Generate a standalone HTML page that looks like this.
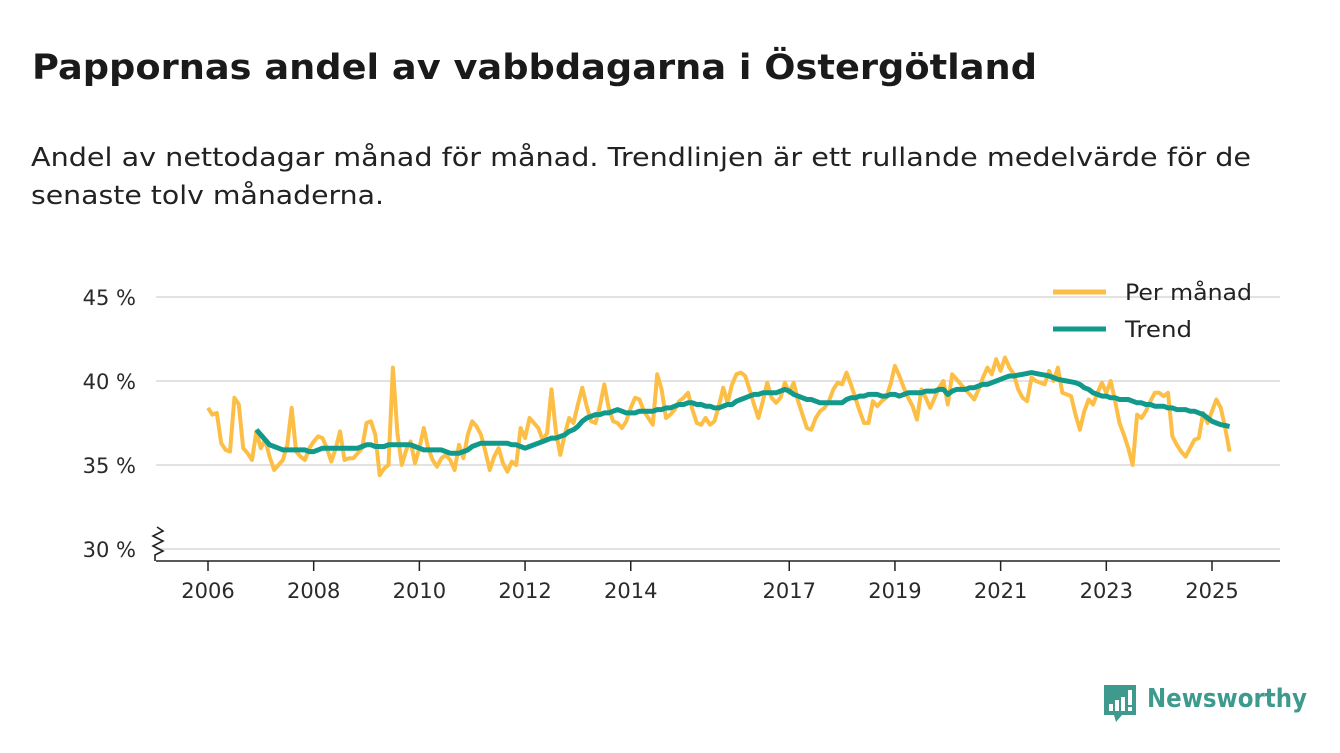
<!DOCTYPE html>
<html><head><meta charset="utf-8"><style>
html,body{margin:0;padding:0;background:#fff;}
svg{display:block;font-family:"DejaVu Sans","Liberation Sans",sans-serif;}
</style></head><body>
<svg id="chart" width="1340" height="753" viewBox="0 0 1340 753">
<text x="32" y="79" font-size="35" font-weight="bold" fill="#1a1a1a" textLength="1005" lengthAdjust="spacingAndGlyphs">Pappornas andel av vabbdagarna i Östergötland</text>
<text x="31" y="166" font-size="26" fill="#222" textLength="1220" lengthAdjust="spacingAndGlyphs">Andel av nettodagar månad för månad. Trendlinjen är ett rullande medelvärde för de</text>
<text x="31" y="204" font-size="26" fill="#222" textLength="353" lengthAdjust="spacingAndGlyphs">senaste tolv månaderna.</text>
<g id="grid"></g>
<g id="yticks"></g>
<g id="xticks"></g>
<path d="M157,527 l6,4 l-10,5 l10,5 l-10,5 l10,5 l-8,4 v6" fill="none" stroke="#222" stroke-width="1.6"/>
<line x1="156" y1="561" x2="1280" y2="561" stroke="#222" stroke-width="1.6"/>
<g id="series"></g>
<g>
<g>
<line x1="1053" y1="292" x2="1106" y2="292" stroke="#FDBE45" stroke-width="5"/>
<text x="1125" y="300" font-size="22" fill="#222" textLength="127" lengthAdjust="spacingAndGlyphs">Per månad</text></g>
<g>
<line x1="1053" y1="329" x2="1106" y2="329" stroke="#11998C" stroke-width="5"/>
<text x="1125" y="337" font-size="22" fill="#222" textLength="67" lengthAdjust="spacingAndGlyphs">Trend</text></g>
</g>
<g>
<path d="M1104,685 h32 v30 h-14 l-6,7 l-2,-7 h-10 z" fill="#3d9a8c"/>
<rect x="1109" y="704" width="4" height="7" fill="#fff"/>
<rect x="1115" y="700" width="4" height="11" fill="#fff"/>
<rect x="1121" y="697" width="4" height="14" fill="#fff"/>
<rect x="1128" y="690" width="4" height="15" fill="#fff"/>
<rect x="1128" y="707" width="4" height="4" fill="#fff"/>
<text x="1147" y="707" font-size="26" font-weight="bold" fill="#3d9a8c" textLength="160" lengthAdjust="spacingAndGlyphs">Newsworthy</text>
</g>
</svg>
<script>
const monthly = [
38.4,38.0,38.1,36.3,35.9,35.8,39.0,38.6,36.0,35.7,35.3,37.0,
36.0,36.5,35.5,34.7,35.0,35.3,36.2,38.4,35.8,35.5,35.3,36.0,
36.4,36.7,36.6,36.0,35.2,36.0,37.0,35.3,35.4,35.4,35.7,36.0,
37.5,37.6,36.8,34.4,34.8,35.0,40.8,36.9,35.0,35.9,36.4,35.1,
36.0,37.2,36.0,35.3,34.9,35.4,35.6,35.3,34.7,36.2,35.4,36.8,
37.6,37.3,36.8,35.8,34.7,35.5,36.0,35.1,34.6,35.2,35.0,37.2,
36.6,37.8,37.5,37.2,36.5,36.9,39.5,37.0,35.6,36.8,37.8,37.5,
38.6,39.6,38.5,37.6,37.5,38.5,39.8,38.4,37.6,37.5,37.2,37.6,
38.4,39.0,38.9,38.2,37.8,37.4,40.4,39.5,37.8,38.0,38.3,38.8,
39.0,39.3,38.3,37.5,37.4,37.8,37.4,37.6,38.5,39.6,38.7,39.8,
40.4,40.5,40.3,39.5,38.6,37.8,38.8,39.9,39.0,38.7,39.0,39.9,
39.3,39.9,38.8,38.0,37.2,37.1,37.8,38.2,38.4,38.8,39.5,39.9,
39.8,40.5,39.8,39.0,38.2,37.5,37.5,38.8,38.5,38.8,39.0,39.8,
40.9,40.3,39.6,39.0,38.5,37.7,39.5,39.0,38.4,39.0,39.6,40.0,
38.6,40.4,40.1,39.8,39.5,39.2,38.9,39.5,40.2,40.8,40.4,41.3,
40.6,41.4,40.8,40.4,39.5,39.0,38.8,40.2,40.0,39.9,39.8,40.6,
40.0,40.8,39.3,39.2,39.1,38.0,37.1,38.2,38.9,38.6,39.3,39.9,
39.3,40.0,38.8,37.5,36.8,36.0,35.0,38.0,37.8,38.2,38.8,39.3,
39.3,39.1,39.3,36.7,36.2,35.8,35.5,36.0,36.5,36.6,38.1,37.5,
38.2,38.9,38.4,37.2,35.8];
const trendStart = 11;
const trend = [
37.1,36.8,36.5,36.2,36.1,36.0,35.9,35.9,35.9,35.9,35.9,35.9,
35.8,35.8,35.9,36.0,36.0,36.0,36.0,36.0,36.0,36.0,36.0,36.0,
36.1,36.2,36.2,36.1,36.1,36.1,36.2,36.2,36.2,36.2,36.2,36.2,
36.1,36.0,35.9,35.9,35.9,35.9,35.9,35.8,35.7,35.7,35.7,35.8,
35.9,36.1,36.2,36.3,36.3,36.3,36.3,36.3,36.3,36.3,36.2,36.2,
36.1,36.0,36.1,36.2,36.3,36.4,36.5,36.6,36.6,36.7,36.8,37.0,
37.1,37.3,37.6,37.8,37.9,38.0,38.0,38.1,38.1,38.2,38.3,38.2,
38.1,38.1,38.1,38.2,38.2,38.2,38.2,38.3,38.3,38.4,38.4,38.5,
38.6,38.6,38.7,38.7,38.6,38.6,38.5,38.5,38.4,38.4,38.5,38.6,
38.6,38.8,38.9,39.0,39.1,39.2,39.2,39.3,39.3,39.3,39.3,39.4,
39.5,39.4,39.2,39.1,39.0,38.9,38.9,38.8,38.7,38.7,38.7,38.7,
38.7,38.7,38.9,39.0,39.0,39.1,39.1,39.2,39.2,39.2,39.1,39.1,
39.2,39.2,39.1,39.2,39.3,39.3,39.3,39.3,39.4,39.4,39.4,39.5,
39.5,39.2,39.4,39.5,39.5,39.5,39.6,39.6,39.7,39.8,39.8,39.9,
40.0,40.1,40.2,40.3,40.3,40.35,40.4,40.45,40.5,40.45,40.4,40.35,
40.3,40.2,40.1,40.05,40.0,39.95,39.9,39.8,39.6,39.5,39.3,39.2,
39.1,39.1,39.0,39.0,38.9,38.9,38.9,38.8,38.7,38.7,38.6,38.6,
38.5,38.5,38.5,38.4,38.4,38.3,38.3,38.3,38.2,38.2,38.1,38.0,
37.8,37.6,37.5,37.4,37.35,37.3];
const yTicks = [30,35,40,45];
const xTickYears = [2006,2008,2010,2012,2014,2017,2019,2021,2023,2025];

const NS = "http://www.w3.org/2000/svg";
function xScale(i){ return 208 + i * (1004 / (19*12)); }
function yScale(v){ return 381 - (v - 40) * 16.8; }
function xYear(y){ return xScale((y - 2006) * 12); }
function mk(tag, attrs, parent){ const e=document.createElementNS(NS,tag); for(const k in attrs) e.setAttribute(k,attrs[k]); parent.appendChild(e); return e; }

const grid=document.getElementById('grid'), yt=document.getElementById('yticks'), xt=document.getElementById('xticks'), ser=document.getElementById('series');
yTicks.forEach(v=>{
  const l=mk('line',{x1:156,x2:1280,y1:yScale(v),y2:yScale(v),stroke:'#d9d9d9','stroke-width':1.6},grid);
  
  
  const t=mk('text',{x:136,y:yScale(v)+8,'text-anchor':'end','font-size':21,fill:'#2a2a2a'},yt);
  t.textContent=v+' %';
  
  
});
xTickYears.forEach(y=>{
  const x=xYear(y);
  const m=mk('line',{x1:x,x2:x,y1:561,y2:571,stroke:'#222','stroke-width':1.5},xt);
  
  
  const t=mk('text',{x:x,y:598,'text-anchor':'middle','font-size':21,fill:'#2a2a2a'},xt);
  t.textContent=y;
  
  
});
const mp=mk('polyline',{points:monthly.map((v,i)=>xScale(i).toFixed(1)+','+yScale(v).toFixed(1)).join(' '),fill:'none',stroke:'#FDBE45','stroke-width':4,'stroke-linejoin':'round'},ser);


const tp=mk('polyline',{points:trend.map((v,i)=>xScale(i+trendStart).toFixed(1)+','+yScale(v).toFixed(1)).join(' '),fill:'none',stroke:'#11998C','stroke-width':5,'stroke-linejoin':'round'},ser);


</script>
</body></html>
